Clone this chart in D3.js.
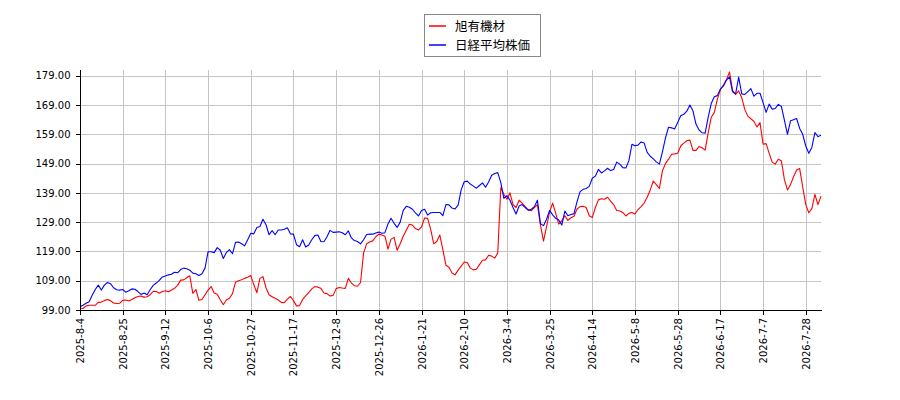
<!DOCTYPE html>
<html>
<head>
<meta charset="utf-8">
<script src="https://cdn.jsdelivr.net/npm/d3@7"></script>
<style>
  body { margin: 0; background: #fff; }
  #chart { width: 900px; height: 400px; }
  .grid line { stroke: #c4c4c4; stroke-width: 1; shape-rendering: crispEdges; }
  .axis text { font-family: "DejaVu Sans", sans-serif; font-size: 10px; fill: #000; }
  .axis path, .axis line { stroke: #000; shape-rendering: crispEdges; }
  .legend text { font-family: "Noto Sans CJK JP", sans-serif; font-size: 12.5px; fill: #000; }
</style>
</head>
<body>
<div id="chart"></div>
<script>
// x tick labels, one every 14 trading days starting at the first point
const xTickLabels = [
  "2025-8-4", "2025-8-25", "2025-9-12", "2025-10-6", "2025-10-27", "2025-11-17",
  "2025-12-8", "2025-12-26", "2026-1-21", "2026-2-10", "2026-3-4", "2026-3-25",
  "2026-4-14", "2026-5-8", "2026-5-28", "2026-6-17", "2026-7-7", "2026-7-28"
];
const tickEvery = 14;

const yTicks = [99, 109, 119, 129, 139, 149, 159, 169, 179];

const seriesNames = ["旭有機材", "日経平均株価"];
const seriesColors = ["#ff0000", "#0000ff"];

// 旭有機材 (indexed, start = 100)
const asahi = [
  99.6, 99.5, 100.4, 100.6, 100.6, 100.6, 101.6, 101.7, 102.2, 102.6,
  102.2, 101.4, 101.2, 101.3, 102.3, 102.4, 102.1, 102.6, 103.2, 103.6,
  103.8, 103.4, 103.5, 104.2, 105.4, 105.3, 104.7, 105.3, 105.6, 105.2,
  105.8, 106.4, 107.4, 109.2, 109.3, 110.0, 110.7, 104.7, 106.0, 102.3,
  102.6, 104.2, 105.8, 107.0, 104.8, 104.4, 102.5, 100.8, 102.4, 103.0,
  104.6, 108.5, 109.0, 109.3, 109.8, 110.2, 110.8, 107.6, 104.9, 109.8,
  110.4, 106.6, 104.2, 103.5, 103.0, 102.4, 101.6, 101.5, 102.7, 103.6,
  102.2, 100.4, 100.5, 102.6, 103.8, 104.9, 106.2, 107.0, 106.8, 106.4,
  104.8, 104.6, 103.8, 104.0, 106.3, 106.7, 106.5, 106.4, 109.8, 108.2,
  107.3, 107.1, 108.4, 118.5, 121.6, 122.2, 122.6, 124.0, 124.9, 124.6,
  124.2, 119.8, 123.2, 123.8, 119.4, 121.6, 124.2, 126.2, 128.3, 128.0,
  126.8, 126.3, 127.4, 130.4, 130.3, 126.5, 121.6, 122.4, 124.6, 119.6,
  114.3, 113.6, 111.6, 111.0, 112.6, 114.0, 115.4, 115.2, 113.3, 112.7,
  112.9, 114.5, 116.0, 116.1, 117.7, 117.4, 116.7, 118.5, 140.8, 138.5,
  136.8, 139.0, 135.0, 134.0, 136.5, 135.5, 134.3, 133.1, 132.9, 134.0,
  135.0, 128.0, 122.5, 127.5, 132.5, 135.5, 132.0, 128.3, 129.5, 131.2,
  129.6, 130.5, 131.0, 133.5, 134.3, 134.4, 134.0, 131.2, 130.6, 134.0,
  136.6, 137.0, 136.8, 137.5, 136.2, 135.0, 133.0, 132.8, 132.3, 131.1,
  132.0, 132.3, 131.8, 133.3, 134.3, 135.5, 137.5, 140.0, 143.0, 141.8,
  140.5, 146.5, 149.0, 150.5, 152.2, 152.3, 152.5, 155.0, 156.0, 156.8,
  157.0, 153.5, 153.5, 154.8, 154.4, 153.6, 159.5, 164.8, 166.4, 170.9,
  174.3, 175.8, 177.6, 180.3, 174.0, 172.6, 173.8, 171.5, 167.5, 165.2,
  164.3, 163.4, 161.5, 163.0, 155.6, 155.8, 152.5, 149.5, 148.8, 150.5,
  150.0, 143.5, 140.0, 141.8, 144.5, 146.8, 147.3, 141.0, 135.0, 132.2,
  133.6, 138.5, 135.0, 137.9
];

// 日経平均株価 (indexed, start = 100)
const nikkei = [
  100.1, 100.6, 101.3, 101.8, 104.0, 106.0, 107.5, 105.8, 107.5, 108.4,
  108.0, 106.6, 105.9, 105.8, 106.0, 105.1, 105.6, 106.2, 106.1, 105.3,
  104.3, 104.8, 104.2, 105.9, 107.4, 108.2, 109.1, 110.3, 110.6, 111.0,
  111.2, 111.9, 111.7, 112.8, 113.3, 113.1, 112.6, 111.6, 111.4, 110.8,
  111.4, 113.3, 118.9, 118.9, 118.6, 120.3, 119.4, 116.6, 118.6, 119.6,
  118.2, 122.1, 122.2, 121.6, 120.9, 123.0, 125.2, 125.0, 127.2, 127.5,
  130.0, 128.1, 124.7, 126.1, 124.7, 126.3, 126.3, 126.6, 127.1, 125.0,
  124.9, 121.3, 120.6, 123.0, 120.5, 121.2, 123.0, 124.4, 124.6, 122.4,
  122.3, 124.0, 126.2, 125.5, 125.6, 125.7, 125.4, 124.7, 126.0, 123.6,
  122.7, 122.4, 121.6, 123.0, 124.8, 124.9, 124.9, 125.3, 125.6, 125.2,
  125.4, 128.4, 130.3, 128.6, 127.2, 129.0, 133.0, 134.4, 134.1, 133.4,
  132.2, 131.1, 133.0, 133.4, 131.4, 132.2, 132.3, 132.3, 132.3, 131.2,
  135.0, 134.9, 133.8, 133.5, 134.8, 140.0, 142.8, 143.0, 142.0, 141.3,
  140.6, 141.5, 142.4, 140.9, 142.7, 145.0, 145.6, 145.9, 142.5, 137.1,
  138.0, 136.5, 134.0, 131.8, 134.5, 135.0, 134.0, 133.1, 133.4, 134.3,
  136.5, 128.5, 127.8, 130.0, 133.0, 131.5, 130.3, 129.7, 128.0, 132.8,
  131.2, 131.6, 131.9, 136.0, 139.4, 140.2, 140.5, 141.2, 144.0, 144.7,
  147.0, 145.8, 146.5, 147.4, 146.6, 147.0, 149.5, 148.8, 147.6, 147.5,
  150.0, 155.6, 155.1, 155.3, 156.4, 156.0, 152.8, 151.5, 150.6, 149.6,
  148.8, 153.0, 157.8, 161.4, 161.2, 160.8, 163.0, 165.3, 165.8, 166.9,
  169.0, 167.0, 162.5, 160.5, 159.5, 159.4, 164.8, 169.5, 171.8, 172.2,
  174.4, 175.5, 177.5, 178.6, 173.5, 172.8, 178.5, 172.8, 172.6, 173.6,
  174.6, 172.0, 173.0, 173.0, 169.8, 166.5, 169.3, 167.6, 167.8, 169.2,
  168.5, 163.8, 159.0, 163.6, 164.0, 164.4, 161.0, 159.0, 155.0, 152.5,
  154.5, 159.6, 158.2, 158.7
];

const width = 900, height = 400;
const margin = { top: 70, right: 79, bottom: 90, left: 80 };

const svg = d3.select("#chart").append("svg")
    .attr("width", width)
    .attr("height", height);

const x = d3.scaleLinear()
    .domain([0, asahi.length - 1])
    .range([margin.left, width - margin.right]);

const y = d3.scaleLinear()
    .domain([99, 180.95])
    .range([height - margin.bottom, margin.top]);

const xTickIdx = xTickLabels.map((d, i) => i * tickEvery);

// grid
const grid = svg.append("g").attr("class", "grid");
grid.selectAll(".vg").data(xTickIdx).enter().append("line")
    .attr("x1", d => Math.round(x(d)) + 0.5).attr("x2", d => Math.round(x(d)) + 0.5)
    .attr("y1", y.range()[1]).attr("y2", y.range()[0]);
grid.selectAll(".hg").data(yTicks).enter().append("line")
    .attr("x1", x.range()[0]).attr("x2", x.range()[1])
    .attr("y1", d => Math.round(y(d)) + 0.5).attr("y2", d => Math.round(y(d)) + 0.5);

// lines
const line = d3.line().x((d, i) => x(i)).y(d => y(d));
[asahi, nikkei].forEach((s, k) => {
    svg.append("path").datum(s)
        .attr("fill", "none")
        .attr("stroke", seriesColors[k])
        .attr("stroke-width", 1.1)
        .attr("stroke-linejoin", "round")
        .attr("d", line);
});

// axes
const yAxis = svg.append("g").attr("class", "axis")
    .attr("transform", `translate(${margin.left},0)`)
    .call(d3.axisLeft(y).tickValues(yTicks).tickFormat(d3.format(".2f")).tickSize(4.5).tickPadding(5).tickSizeOuter(0));
yAxis.select(".domain").attr("d", `M0.5,${y.range()[0]}V${y.range()[1]}`);

const xAxis = svg.append("g").attr("class", "axis")
    .attr("transform", `translate(0,${height - margin.bottom})`)
    .call(d3.axisBottom(x).tickValues(xTickIdx).tickFormat((d, i) => xTickLabels[i]).tickSize(4.5).tickSizeOuter(0));
xAxis.selectAll("text")
    .attr("transform", "rotate(-90)")
    .attr("text-anchor", "end")
    .attr("dy", "0.35em")
    .attr("x", -8)
    .attr("y", 0);

// legend
const lg = svg.append("g").attr("class", "legend").attr("transform", "translate(424,14)");
lg.append("rect").attr("x", 0.5).attr("y", 0.5).attr("width", 116).attr("height", 42)
    .attr("fill", "#fff").attr("stroke", "#888").attr("stroke-width", 1);
seriesNames.forEach((name, k) => {
    const yy = 12 + k * 19;
    lg.append("line").attr("x1", 5).attr("x2", 22).attr("y1", yy).attr("y2", yy)
        .attr("stroke", seriesColors[k]).attr("stroke-width", 1.5);
    lg.append("text").attr("x", 31).attr("y", yy).attr("dy", "0.36em").text(name);
});
</script>
</body>
</html>
